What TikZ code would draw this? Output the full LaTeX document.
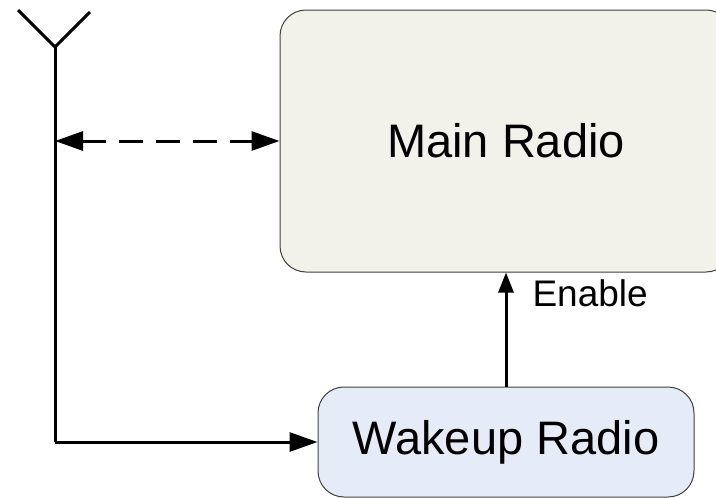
\documentclass[tikz,border=0pt]{standalone}
\usepackage{fontspec}
\setmainfont{Liberation Sans}
\usetikzlibrary{arrows.meta}
\definecolor{mainfill}{HTML}{F2F2EA}
\definecolor{wakefill}{HTML}{E6ECF7}
\definecolor{boxline}{HTML}{404040}
\begin{document}
\begin{tikzpicture}[x=1pt,y=-1pt,
  radiobox/.style={draw=boxline,line width=1pt,rounded corners=26pt,inner sep=0pt,
    font=\fontsize{47}{56}\selectfont},
  wire/.style={line width=3pt},
  bigtip/.style={-{Triangle[length=28pt,width=19pt]}},
  smalltip/.style={-{Triangle[length=20pt,width=15pt]}}]
\useasboundingbox (0,0) rectangle (716,498);
\clip (0,0) rectangle (716,498);
\node[radiobox,fill=mainfill,minimum width=452pt,minimum height=262pt] (main) at (506,141) {Main Radio};
\node[radiobox,fill=wakefill,minimum width=376pt,minimum height=110pt] (wake) at (506,442) {Wakeup Radio};
\coordinate (feed) at (55,47);
\coordinate (armL) at (18,10);
\coordinate (armR) at (90,12);
\coordinate (corner) at (55,442);
\draw[wire] (armL) -- (feed) -- (armR);
\draw[wire] (feed) -- (corner);
\draw[wire,bigtip] (corner) -- (wake.west);
\draw[wire,dash pattern=on 24pt off 13pt,{Triangle[length=28pt,width=19pt]}-{Triangle[length=28pt,width=19pt]}] (main.west -| feed) -- (main.west);
\draw[wire,smalltip] (wake.north) -- (main.south) node[pos=0.82,anchor=west,xshift=25pt,inner sep=0pt,font=\fontsize{37}{44}\selectfont] {Enable};
\end{tikzpicture}
\end{document}
